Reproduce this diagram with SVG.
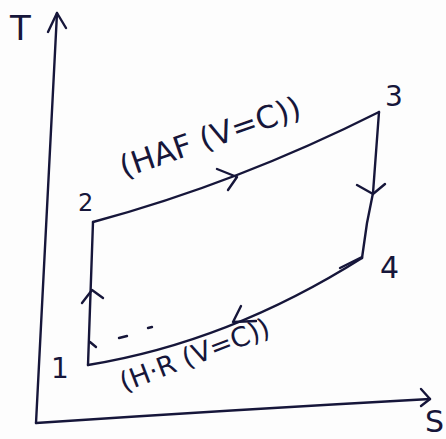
<svg xmlns="http://www.w3.org/2000/svg" width="446" height="439" viewBox="0 0 446 439">
<style>
.ink{fill:none;stroke:#16163a;stroke-width:2.4;stroke-linecap:round;stroke-linejoin:round}
.lbl{font-family:"DejaVu Sans","Liberation Sans",sans-serif;fill:#16163a}
</style>
<rect width="446" height="439" fill="#fdfdfd"/>
<g id="axes">
<path class="ink" d="M36,423 L57,13"/>
<path class="ink" d="M48,32 L57,13 L66,28"/>
<path class="ink" d="M36,423 Q230,410 430,399"/>
<path class="ink" d="M421,389 L430,399 L421,406"/>
<text class="lbl" x="10" y="40" font-size="34">T</text>
<text class="lbl" x="425" y="432" font-size="30">S</text>
</g>
<g id="connectors">
<path class="ink" d="M88,365 L93,222"/>
<path class="ink" d="M82,303 L92,290 L103,298"/>
<path class="ink" d="M93,222 Q238,183 379,112"/>
<path class="ink" d="M217,169 L237,177 L228,190"/>
<path class="ink" d="M379,112 L373,193 L367,223 L362,258"/>
<path class="ink" d="M357,185 L373,194 L385,184"/>
<path class="ink" d="M362,258 Q229,342 88,365"/>
<path class="ink" d="M340,268 L362,257" stroke-width="5"/>
<path class="ink" d="M241,306 L233,322 L256,321"/>
<path class="ink" d="M90,342 L96,347 M119,338 L127,336 M148,328 L152,327" stroke-width="1.6" stroke="#555"/>
</g>
<g id="node1"><text class="lbl" x="51" y="378" font-size="28">1</text></g>
<g id="node2"><text class="lbl" x="78" y="211" font-size="24">2</text></g>
<g id="node3"><text class="lbl" x="385" y="106" font-size="28">3</text></g>
<g id="node4"><text class="lbl" x="380" y="278" font-size="30">4</text></g>
<g id="label-hah"><text class="lbl" font-size="31" transform="translate(124,178) rotate(-19)">(HAF (V=C))</text></g>
<g id="label-hr"><text class="lbl" font-size="27" transform="translate(124,392) rotate(-21)">(H·R (V=C))</text></g>
</svg>
